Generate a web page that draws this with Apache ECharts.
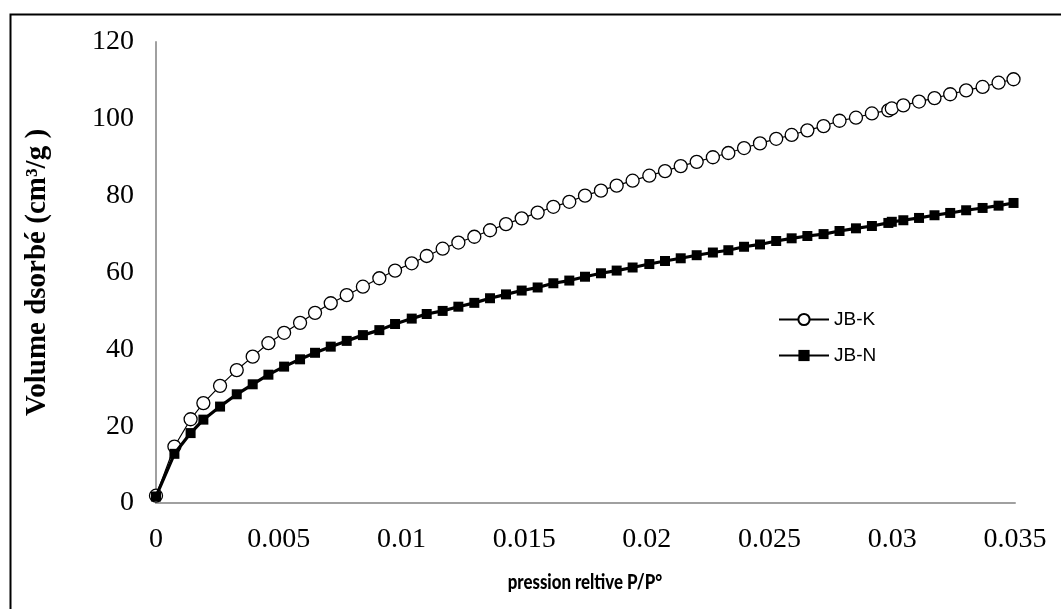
<!DOCTYPE html>
<html>
<head>
<meta charset="utf-8">
<script src="https://cdn.jsdelivr.net/npm/echarts@6/dist/echarts.min.js"></script>
<style>
html,body{margin:0;padding:0;background:#fff;}
#chart{width:1061px;height:609px;}
</style>
</head>
<body>
<div id="chart"></div>
<script>
const pressure = [0, 0.00075, 0.00141, 0.00193, 0.00261, 0.00329, 0.00394, 0.00458, 0.00522, 0.00587,
  0.00648, 0.00712, 0.00777, 0.00843, 0.0091, 0.00974, 0.01042, 0.01103, 0.01168, 0.01232,
  0.01297, 0.01361, 0.01426, 0.0149, 0.01555, 0.01619, 0.01684, 0.01748, 0.01813, 0.01877,
  0.01942, 0.0201, 0.02074, 0.02138, 0.02203, 0.02269, 0.02332, 0.02396, 0.02461, 0.02527,
  0.0259, 0.02654, 0.0272, 0.02785, 0.02852, 0.02917, 0.02984, 0.02998, 0.03045, 0.03109,
  0.03172, 0.03236, 0.03301, 0.03368, 0.03433, 0.03494];
const jbK = [1.9, 14.7, 21.8, 26.0, 30.5, 34.6, 38.1, 41.6, 44.3, 46.9,
  49.5, 52.0, 54.1, 56.3, 58.5, 60.5, 62.4, 64.3, 66.2, 67.8,
  69.3, 71.0, 72.6, 74.1, 75.6, 77.1, 78.4, 80.0, 81.3, 82.6,
  83.9, 85.2, 86.4, 87.7, 88.8, 90.0, 91.1, 92.4, 93.6, 94.8,
  95.8, 97.0, 98.1, 99.5, 100.3, 101.4, 102.2, 102.7, 103.5, 104.5,
  105.4, 106.4, 107.4, 108.3, 109.4, 110.3];
const jbN = [1.7, 12.8, 18.2, 21.7, 25.1, 28.3, 30.9, 33.4, 35.5, 37.4,
  39.1, 40.7, 42.2, 43.7, 45.0, 46.6, 48.0, 49.2, 50.0, 51.1,
  52.1, 53.3, 54.3, 55.3, 56.1, 57.2, 57.9, 58.9, 59.8, 60.5,
  61.3, 62.2, 63.0, 63.7, 64.5, 65.2, 65.8, 66.7, 67.3, 68.2,
  68.9, 69.5, 70.0, 70.8, 71.5, 72.1, 72.9, 73.2, 73.6, 74.2,
  74.9, 75.5, 76.2, 76.8, 77.4, 78.1];
const seriesNames = ['JB-K', 'JB-N'];
const xTitle = 'pression reltive P/P°';
const yTitle = 'Volume dsorbé (cm³/g )';

const chart = echarts.init(document.getElementById('chart'), null, {renderer: 'canvas'});
const pairs = (xs, ys) => xs.map((x, i) => [x, ys[i]]);
const tickFont = {fontFamily: 'Liberation Serif', fontSize: 28, color: '#000'};

chart.setOption({
  animation: false,
  backgroundColor: '#fff',
  graphic: [{
    type: 'rect', left: 8, top: 12, z: -1,
    shape: {width: 1200, height: 800},
    style: {fill: 'none', stroke: '#000', lineWidth: 2}
  }, {
    type: 'text', x: 585, y: 582, scaleX: 0.8, scaleY: 1,
    style: {
      text: xTitle, x: 0, y: 0, align: 'center', verticalAlign: 'middle',
      fontFamily: 'Lato', fontWeight: 900, fontSize: 21, fill: '#000'
    }
  }],
  grid: {left: 156, right: 46, top: 42, bottom: 106, containLabel: false},
  legend: {
    orient: 'vertical', left: 773, top: 305, itemGap: 17,
    itemWidth: 50, itemHeight: 14,
    textStyle: {fontFamily: 'Liberation Sans', fontSize: 19, color: '#000'},
    data: seriesNames
  },
  xAxis: {
    type: 'value', min: 0, max: 0.035, interval: 0.005,
    axisLine: {show: true, lineStyle: {color: '#a0a0a0', width: 2}},
    axisTick: {show: false}, splitLine: {show: false},
    axisLabel: Object.assign({margin: 23, formatter: v => String(+v.toFixed(3))}, tickFont)
  },
  yAxis: {
    type: 'value', min: 0, max: 120, interval: 20,
    name: yTitle, nameLocation: 'middle', nameGap: 104,
    nameTextStyle: {fontFamily: 'Liberation Serif', fontWeight: 'bold', fontSize: 29, color: '#000'},
    axisLine: {show: true, lineStyle: {color: '#a0a0a0', width: 2}},
    axisTick: {show: false}, splitLine: {show: false},
    axisLabel: Object.assign({margin: 22}, tickFont)
  },
  series: [{
    name: seriesNames[0], type: 'line', data: pairs(pressure, jbK),
    symbol: 'circle', symbolSize: 13,
    lineStyle: {color: '#000', width: 1.2},
    itemStyle: {color: '#fff', borderColor: '#000', borderWidth: 1.3},
    z: 2
  }, {
    name: seriesNames[1], type: 'line', data: pairs(pressure, jbN),
    symbol: 'rect', symbolSize: 10,
    lineStyle: {color: '#000', width: 3.2},
    itemStyle: {color: '#000', borderColor: '#000', borderWidth: 0},
    z: 3
  }]
});
</script>
</body>
</html>
